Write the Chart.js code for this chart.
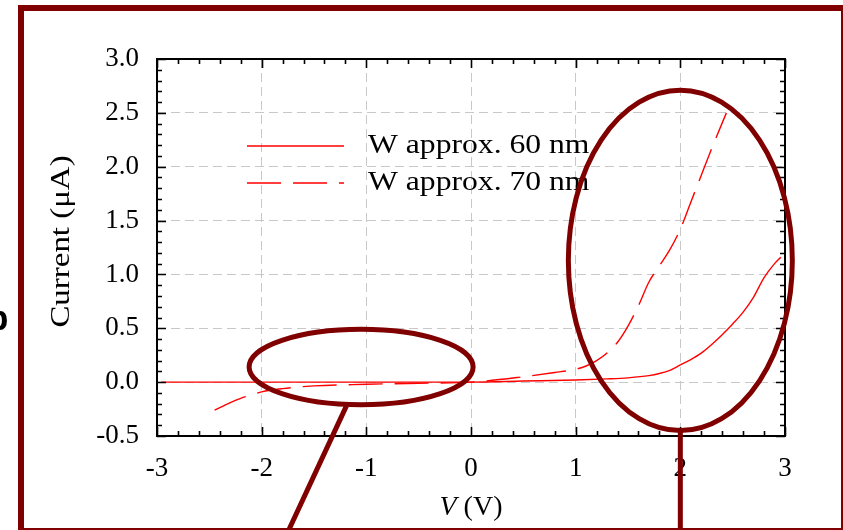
<!DOCTYPE html>
<html lang="en">
<head>
<meta charset="UTF-8">
<title>Current vs V</title>
<script src="https://cdn.jsdelivr.net/npm/chart.js"></script>
<style>
  html, body { margin: 0; padding: 0; background: #fff; width: 843px; height: 530px; overflow: hidden; }
  #frame { position: absolute; left: 18px; top: 5px; width: 829px; height: 529px; border: 6px solid #800000; box-sizing: border-box; }
  #chartContainer { position: absolute; left: 0; top: 0; width: 843px; height: 530px; }
</style>
</head>
<body>
<div id="frame"></div>
<div id="chartContainer"><canvas id="ivChart"></canvas></div>
<script>
  // W approx. 60 nm (solid)
  const volts60 = [-2.96, -2.5, -2, -1.5, -1, -0.5, 0, 0.5, 1.0, 1.3, 1.5, 1.7, 1.8, 1.9, 2.0, 2.1, 2.2, 2.3, 2.4, 2.5, 2.6, 2.7, 2.8, 2.9, 2.96];
  const current60 = [0, 0, 0, 0, 0, 0, 0, 0.01, 0.02, 0.03, 0.04, 0.06, 0.08, 0.11, 0.16, 0.21, 0.27, 0.35, 0.44, 0.54, 0.65, 0.79, 0.97, 1.1, 1.16];

  // W approx. 70 nm (dashed)
  const volts70 = [-2.45, -2.3, -2.2, -2.1, -2.0, -1.8, -1.5, -1.0, -0.5, 0, 0.5, 0.8, 1.0, 1.1, 1.2, 1.3, 1.4, 1.5, 1.6, 1.7, 1.8, 1.9, 2.0, 2.1, 2.2, 2.3, 2.44];
  const current70 = [-0.26, -0.19, -0.15, -0.12, -0.09, -0.06, -0.035, -0.02, -0.01, 0, 0.05, 0.09, 0.12, 0.15, 0.2, 0.27, 0.37, 0.52, 0.71, 0.93, 1.08, 1.23, 1.42, 1.67, 1.92, 2.17, 2.5];

  const seriesLabels = ['W approx. 60 nm', 'W approx. 70 nm'];

  // callout ellipses (data units): center x, center y, radius x, radius y
  const calloutEllipses = [[-1.05, 0.14, 1.07, 0.35], [2.0, 1.13, 1.07, 1.58]];
  // callout pointer lines (data units): x1, y1, x2, y2
  const calloutLines = [[-1.19, -0.22, -1.74, -1.37], [2.0, -0.45, 2.0, -1.37]];

  const SERIF = "'Liberation Serif', 'Times New Roman', serif";

  function toPoints(xs, ys) {
    return xs.map((x, i) => ({ x: x, y: ys[i] }));
  }

  // text stretched a little along its run, like the source figure
  function wideText(ctx, text, x, y, stretch, align) {
    ctx.save();
    ctx.translate(x, y);
    ctx.scale(stretch, 1);
    ctx.textAlign = align;
    ctx.fillText(text, 0, 0);
    ctx.restore();
  }

  // frame, inward ticks, callouts, legend and axis titles
  const decorPlugin = {
    id: 'decor',
    afterDatasetsDraw(chart) {
      const ctx = chart.ctx;
      const a = chart.chartArea;
      const xs = chart.scales.x, ys = chart.scales.y;

      ctx.save();
      ctx.strokeStyle = '#000';
      ctx.lineWidth = 2;
      ctx.strokeRect(a.left, a.top, a.right - a.left, a.bottom - a.top);

      ctx.lineWidth = 1.6;
      ctx.beginPath();
      for (let i = 0; i <= 30; i++) {
        const v = -3 + i * 0.2;
        const px = Math.round(xs.getPixelForValue(v)) + 0.5;
        const len = (i % 5 === 0) ? 9 : 5;
        ctx.moveTo(px, a.bottom); ctx.lineTo(px, a.bottom - len);
        ctx.moveTo(px, a.top); ctx.lineTo(px, a.top + len);
      }
      for (let i = 0; i <= 35; i++) {
        const v = -0.5 + i * 0.1;
        const py = Math.round(ys.getPixelForValue(v)) + 0.5;
        const len = (i % 5 === 0) ? 9 : 5;
        ctx.moveTo(a.left, py); ctx.lineTo(a.left + len, py);
        ctx.moveTo(a.right, py); ctx.lineTo(a.right - len, py);
      }
      ctx.stroke();

      // legend
      const legendY = [146, 183];
      chart.data.datasets.forEach((ds, i) => {
        ctx.strokeStyle = ds.borderColor;
        ctx.lineWidth = ds.borderWidth;
        ctx.setLineDash(ds.borderDash || []);
        ctx.beginPath();
        ctx.moveTo(247, legendY[i]);
        ctx.lineTo(344, legendY[i]);
        ctx.stroke();
        ctx.setLineDash([]);
        ctx.fillStyle = '#000';
        ctx.font = '28px ' + SERIF;
        ctx.textBaseline = 'middle';
        wideText(ctx, ds.label, 368, legendY[i], 1.13, 'left');
      });

      // axis titles
      ctx.fillStyle = '#000';
      ctx.save();
      ctx.translate(62, (a.top + a.bottom) / 2 - 6);
      ctx.rotate(-Math.PI / 2);
      ctx.font = '27px ' + SERIF;
      ctx.textBaseline = 'middle';
      wideText(ctx, 'Current (\u03bcA)', 0, 0, 1.22, 'center');
      ctx.restore();

      const cx = (a.left + a.right) / 2;
      ctx.textBaseline = 'alphabetic';
      ctx.textAlign = 'left';
      ctx.font = 'italic 28px ' + SERIF;
      const wV = ctx.measureText('V').width;
      ctx.font = '28px ' + SERIF;
      const wRest = ctx.measureText(' (V)').width;
      const x0 = cx - (wV + wRest) / 2;
      ctx.font = 'italic 28px ' + SERIF;
      ctx.fillText('V', x0, 515);
      ctx.font = '28px ' + SERIF;
      ctx.fillText(' (V)', x0 + wV, 515);

      // partial panel label at left edge
      ctx.font = "bold 35px 'Liberation Sans', Arial, sans-serif";
      ctx.fillText('b', -13, 330);

      // callouts
      ctx.strokeStyle = '#800000';
      ctx.lineWidth = 5;
      calloutEllipses.forEach(e => {
        const px = xs.getPixelForValue(e[0]);
        const py = ys.getPixelForValue(e[1]);
        const rx = Math.abs(xs.getPixelForValue(e[0] + e[2]) - px);
        const ry = Math.abs(ys.getPixelForValue(e[1] + e[3]) - py);
        ctx.beginPath();
        ctx.ellipse(px, py, rx, ry, 0, 0, Math.PI * 2);
        ctx.stroke();
      });
      calloutLines.forEach(l => {
        ctx.beginPath();
        ctx.moveTo(xs.getPixelForValue(l[0]), ys.getPixelForValue(l[1]));
        ctx.lineTo(xs.getPixelForValue(l[2]), ys.getPixelForValue(l[3]));
        ctx.stroke();
      });
      ctx.restore();
    }
  };

  const ctx = document.getElementById('ivChart').getContext('2d');
  const ivChart = new Chart(ctx, {
    type: 'line',
    data: {
      datasets: [{
        label: seriesLabels[0],
        data: toPoints(volts60, current60),
        borderColor: '#ff0000',
        borderWidth: 1.4,
        pointRadius: 0,
        cubicInterpolationMode: 'monotone'
      }, {
        label: seriesLabels[1],
        data: toPoints(volts70, current70),
        borderColor: '#ff0000',
        borderWidth: 1.4,
        borderDash: [34, 12],
        pointRadius: 0,
        cubicInterpolationMode: 'monotone'
      }]
    },
    options: {
      responsive: true,
      maintainAspectRatio: false,
      animation: false,
      layout: { padding: { top: 59, right: 58, left: 0, bottom: 0 } },
      plugins: { legend: { display: false }, tooltip: { enabled: false } },
      scales: {
        x: {
          type: 'linear',
          min: -3, max: 3,
          grid: { color: '#c8c8c8', lineWidth: 1, drawTicks: false },
          border: { display: false, dash: [9, 5] },
          ticks: {
            stepSize: 1, padding: 17, color: '#000',
            font: { family: SERIF, size: 27 },
            callback: v => String(v)
          },
          afterFit: s => { s.height = 94; }
        },
        y: {
          min: -0.5, max: 3,
          grid: { color: '#c8c8c8', lineWidth: 1, drawTicks: false },
          border: { display: false, dash: [9, 5] },
          ticks: {
            stepSize: 0.5, padding: 18, color: '#000',
            font: { family: SERIF, size: 27 },
            callback: v => v.toFixed(1)
          },
          afterFit: s => { s.width = 157; }
        }
      }
    },
    plugins: [decorPlugin]
  });
</script>
</body>
</html>
